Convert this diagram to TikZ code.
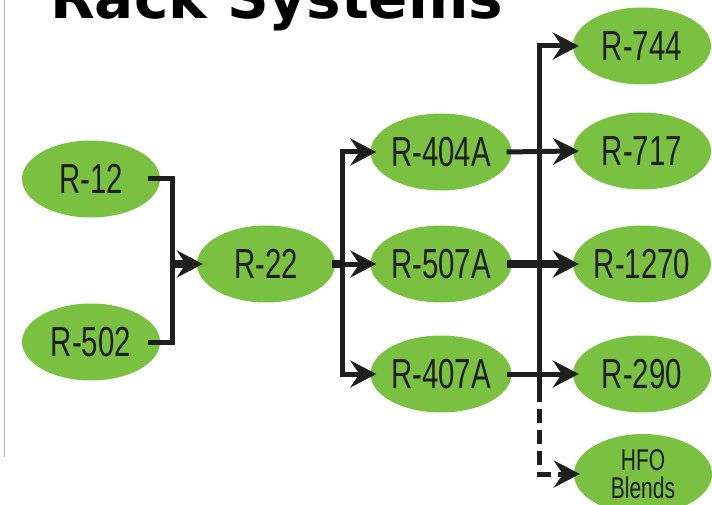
\documentclass[tikz,border=0pt]{standalone}
\usepackage{fontspec}
\setmainfont{Liberation Sans}
\newfontfamily\condfont[FakeStretch=0.7]{Liberation Sans}
\newfontfamily\titlefont{DejaVu Sans}
\usetikzlibrary{shapes.geometric,arrows.meta}
\definecolor{leaf}{RGB}{122,193,66}
\definecolor{ink}{RGB}{30,30,30}
\definecolor{rule}{RGB}{180,180,188}
\begin{document}
\begin{tikzpicture}[x=1pt,y=-1pt,
  refnode/.style={ellipse, fill=leaf, draw=none, minimum width=138pt, minimum height=77pt,
    inner sep=0pt, text=ink, font=\condfont\fontsize{42}{44}\selectfont},
  wire/.style={draw=ink, line width=5pt},
  heavy/.style={draw=ink, line width=8pt},
  tip/.style={-{Stealth[length=26pt,width=27pt,inset=9pt]}, shorten >=-6pt}
]
\useasboundingbox (0,0) rectangle (712,505);
\clip (0,0) rectangle (712,505);

\draw[rule, line width=1.5pt] (4.5,0) -- (4.5,457);
\node[anchor=base west, inner sep=0pt, font=\titlefont\bfseries\fontsize{58}{60}\selectfont] (title) at (50,19) {Rack Systems};

\node[refnode] (r12) at (91,179) {R-12};
\node[refnode] (r502) at (91,342) {R-502};
\node[refnode] (r22) at (266,264) {R-22};
\node[refnode] (r404) at (441,152) {R-404A};
\node[refnode] (r507) at (441,264) {R-507A};
\node[refnode] (r407) at (441,374) {R-407A};
\node[refnode] (r744) at (642,46) {R-744};
\node[refnode] (r717) at (642,151) {R-717};
\node[refnode] (r1270) at (642,264) {R-1270};
\node[refnode] (r290) at (642,374) {R-290};
\node[refnode, minimum height=80pt, align=center, font=\condfont\fontsize{30}{28}\selectfont] (hfo) at (643,474) {HFO\\Blends};

\coordinate (j1) at (172,264);
\coordinate (j2) at (342,264);
\coordinate (j3end) at (539,388);

\draw[wire] ([xshift=-12pt]r12.east) -| (j1) |- ([xshift=-12pt]r502.east);
\draw[heavy, tip] (j1) -- (r22.west);
\draw[heavy] ([xshift=-3pt]r22.east) -- (j2);
\draw[wire, tip] (j2) |- (r404.west);
\draw[wire, tip] (j2) |- (r407.west);
\draw[wire, tip] (j2) -- (r507.west);

\draw[wire, tip] (j3end) |- (r744.west);
\draw[wire, tip] ([xshift=-5pt]r404.east) -- (r717.west);
\draw[heavy, tip] ([xshift=-5pt]r507.east) -- (r1270.west);
\draw[wire, tip] ([xshift=-5pt]r407.east) -- (r290.west);
\draw[wire, dash pattern=on 14pt off 7pt, tip] (j3end) |- (hfo.west);
\end{tikzpicture}
\end{document}
